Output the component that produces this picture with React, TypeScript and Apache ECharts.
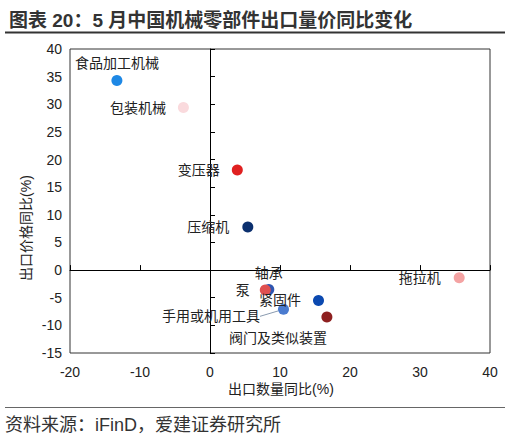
import React, { useEffect, useRef } from "react";
import * as echarts from "echarts";

const names = ["食品加工机械", "包装机械", "变压器", "压缩机", "拖拉机", "轴承", "泵", "紧固件", "手用或机用工具", "阀门及类似装置"];
const exportQtyYoY = [-13.3, -3.8, 3.9, 5.4, 35.6, 8.4, 7.9, 15.5, 10.5, 16.7];
const exportPriceYoY = [34.3, 29.4, 18.1, 7.8, -1.4, -3.5, -3.6, -5.5, -7.1, -8.5];
const xTicks = { min: -20, max: 40, interval: 10 };
const yTicks = { min: -15, max: 40, interval: 5 };

const dotColors = ["#1E88E5", "#FADADD", "#E02020", "#0B2F6E", "#F4A3A3", "#2F56B0", "#E05050", "#0B49B0", "#4A7BCF", "#8E2020"];
const labelPlacement: any[] = [
  { position: "top", distance: 5 },
  { position: "left", distance: 12 },
  { position: "left", distance: 12 },
  { position: "left", distance: 13 },
  { position: "left", distance: 13 },
  { position: "top", distance: 4 },
  { position: "left", distance: 10 },
  { position: "left", distance: 12 },
  { position: "left", distance: 18 },
  { position: "bottom", distance: 8 },
];
const labelShift: Record<number, { dx?: number; dy?: number }> = { 8: { dy: 7 }, 9: { dx: -49 } };
const guidedLabel = 8;

const FONT = "'Liberation Sans', Arial, 'Noto Sans CJK SC', sans-serif";

export default function App() {
  const ref = useRef<HTMLDivElement>(null);
  useEffect(() => {
    if (!ref.current) return;
    const chart = echarts.init(ref.current, null, { renderer: "svg" });
    const data = names.map((n, i) => ({
      name: n,
      value: [exportQtyYoY[i], exportPriceYoY[i]],
      itemStyle: { color: dotColors[i], opacity: 1 },
      label: labelPlacement[i],
      labelLine: { show: i === guidedLabel },
    }));
    const textStyle = { fontFamily: FONT, fontSize: 14, color: "#222" };
    chart.setOption({
      animation: false,
      textStyle: { fontFamily: FONT },
      title: {
        text: "图表 20：5 月中国机械零部件出口量价同比变化",
        left: 4,
        top: 6,
        textStyle: { fontFamily: FONT, fontSize: 19, fontWeight: "bold", color: "#333" },
      },
      grid: {
        left: 70,
        top: 49,
        right: 23,
        bottom: 86,
        show: true,
        borderColor: "#333",
        borderWidth: 1,
        containLabel: false,
      },
      xAxis: [
        {
          type: "value",
          ...xTicks,
          position: "bottom",
          axisLine: { show: false, onZero: false },
          axisTick: { show: false },
          splitLine: { show: false },
          axisLabel: { ...textStyle, margin: 12 },
        },
        {
          type: "value",
          ...xTicks,
          position: "bottom",
          axisLine: { show: true, onZero: true, lineStyle: { color: "#000", width: 1 } },
          axisTick: { show: true, inside: true, length: 5, lineStyle: { color: "#000" } },
          axisLabel: { show: false },
          splitLine: { show: false },
        },
      ],
      yAxis: [
        {
          type: "value",
          ...yTicks,
          position: "left",
          axisLine: { show: false, onZero: false },
          axisTick: { show: false },
          splitLine: { show: false },
          axisLabel: { ...textStyle, margin: 8 },
        },
        {
          type: "value",
          ...yTicks,
          position: "left",
          axisLine: { show: true, onZero: true, lineStyle: { color: "#000", width: 1 } },
          axisTick: { show: true, inside: true, length: 5, lineStyle: { color: "#000" } },
          axisLabel: { show: false },
          splitLine: { show: false },
        },
      ],
      series: [
        {
          type: "scatter",
          xAxisIndex: 0,
          yAxisIndex: 0,
          symbolSize: 11,
          itemStyle: { opacity: 1 },
          data,
          label: { show: true, formatter: "{b}", ...textStyle },
          labelLine: { show: false, lineStyle: { color: "#8a9bb0", width: 1 } },
          labelLayout: (p: any) => labelShift[p.dataIndex] || {},
        },
      ],
      graphic: [
        {
          type: "text",
          x: 26,
          y: 228,
          rotation: Math.PI / 2,
          style: { text: "出口价格同比(%)", align: "center", verticalAlign: "middle", font: `14px ${FONT}`, fill: "#222" },
        },
        {
          type: "text",
          x: 281,
          y: 389,
          style: { text: "出口数量同比(%)", align: "center", verticalAlign: "middle", font: `14px ${FONT}`, fill: "#222" },
        },
        { type: "line", shape: { x1: 5, y1: 32.5, x2: 505, y2: 32.5 }, style: { stroke: "#333", lineWidth: 2 } },
        { type: "line", shape: { x1: 5, y1: 407.5, x2: 505, y2: 407.5 }, style: { stroke: "#666", lineWidth: 1 } },
        {
          type: "text",
          x: 5,
          y: 425,
          style: { text: "资料来源：iFinD，爱建证券研究所", verticalAlign: "middle", font: `18px ${FONT}`, fill: "#333" },
        },
      ],
    });
    return () => chart.dispose();
  }, []);
  return <div ref={ref} style={{ position: "fixed", left: 0, top: 0, width: 513, height: 439, background: "#fff" }} />;
}
